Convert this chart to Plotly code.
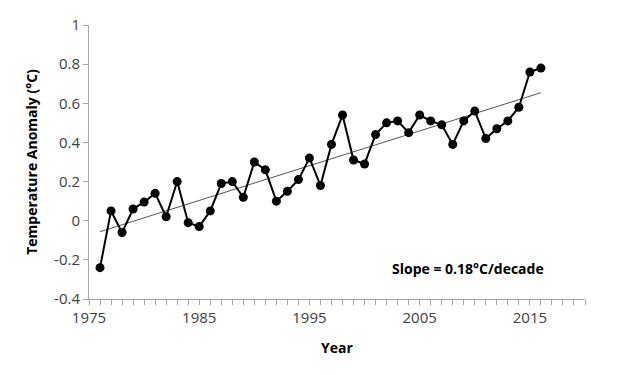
import numpy as np
import plotly.graph_objects as go

years = list(range(1976, 2017))
anomaly = [-0.24, 0.05, -0.06, 0.06, 0.095, 0.14, 0.02, 0.20, -0.01, -0.03,
           0.05, 0.19, 0.20, 0.12, 0.30, 0.26, 0.10, 0.15, 0.21, 0.32,
           0.18, 0.39, 0.54, 0.31, 0.29, 0.44, 0.50, 0.51, 0.45, 0.54,
           0.51, 0.49, 0.39, 0.51, 0.56, 0.42, 0.47, 0.51, 0.58, 0.76, 0.78]

x_ticks = [1975, 1985, 1995, 2005, 2015]
y_ticks = [-0.4, -0.2, 0, 0.2, 0.4, 0.6, 0.8, 1]
y_tick_text = ["-0.4", "-0.2", "0", "0.2", "0.4", "0.6", "0.8", "1"]

coef = np.polyfit(years, anomaly, 1)
trend_x = [years[0], years[-1]]
trend_y = [coef[0] * xv + coef[1] for xv in trend_x]

axis_col = "#a6a6a6"
txt_col = "#404040"
font_fam = "Open Sans, Liberation Sans, sans-serif"

fig = go.Figure()
fig.add_trace(go.Scatter(x=trend_x, y=trend_y, mode="lines",
                         line=dict(color="#555555", width=1), hoverinfo="skip",
                         showlegend=False))
fig.add_trace(go.Scatter(x=years, y=anomaly, mode="lines+markers",
                         line=dict(color="black", width=2),
                         marker=dict(color="black", size=9),
                         showlegend=False))

fig.add_annotation(x=2009.4, y=-0.245, text="<b>Slope = 0.18°C/decade</b>",
                   showarrow=False, font=dict(size=14, color="black", family=font_fam))

fig.update_layout(
    width=625, height=375,
    margin=dict(l=81, r=48, t=17, b=84),
    paper_bgcolor="white", plot_bgcolor="white",
    font=dict(family=font_fam, color=txt_col),
    xaxis=dict(range=[1975, 2020], tickvals=x_ticks, ticks="outside", ticklen=5,
               tickcolor=axis_col, showline=True, linecolor=axis_col, linewidth=1,
               showgrid=False, zeroline=False, tickfont=dict(size=15, color=txt_col),
               automargin=False,
               minor=dict(dtick=1, tick0=1975, ticks="outside", ticklen=5, tickcolor=axis_col),
               title=dict(text="<b>Year</b>", font=dict(size=14, color="black"), standoff=17)),
    yaxis=dict(range=[-0.4, 1], tickvals=y_ticks, ticktext=y_tick_text, ticks="outside",
               ticklen=5, tickcolor=axis_col, showline=True, linecolor=axis_col, linewidth=1,
               showgrid=False, zeroline=False, tickfont=dict(size=15, color=txt_col),
               automargin=False,
               title=dict(text="<b>Temperature Anomaly (°C)</b>", font=dict(size=14, color="black"),
                          standoff=13)),
)

fig.write_html("out.html")
